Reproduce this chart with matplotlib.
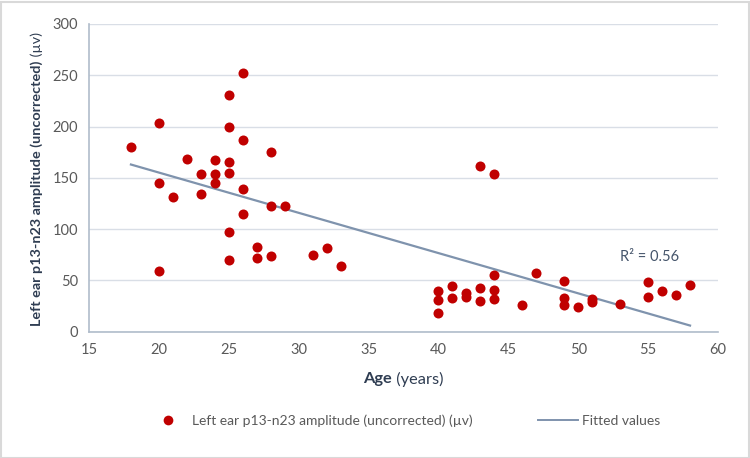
import matplotlib
matplotlib.use("Agg")
import matplotlib.pyplot as plt
from matplotlib.lines import Line2D
from matplotlib.patches import Rectangle

ages = [18, 20, 20, 20, 21, 22, 23, 23, 24, 24, 24, 25, 25, 25, 25, 25, 25,
        26, 26, 26, 26, 27, 27, 28, 28, 28, 29, 31, 32, 33,
        40, 40, 40, 41, 41, 42, 42, 43, 43, 43, 44, 44, 44, 44,
        46, 47, 49, 49, 49, 50, 51, 51, 53, 55, 55, 56, 57, 58]
amplitude = [180, 203, 145, 59, 131, 168, 154, 134, 167, 154, 145, 231, 200, 165, 155, 97, 70,
             252, 187, 139, 115, 83, 72, 175, 123, 74, 123, 75, 82, 64,
             40, 31, 18, 45, 33, 38, 34, 162, 43, 30, 154, 55, 41, 32,
             26, 57, 49, 33, 26, 24, 32, 29, 27, 48, 34, 40, 36, 46]
fit_x = [18, 58]
fit_y = [163, 6]
r2_text = "R² = 0.56"
x_ticks = [15, 20, 25, 30, 35, 40, 45, 50, 55, 60]
y_ticks = [0, 50, 100, 150, 200, 250, 300]

plt.rcParams['font.family'] = ['Lato', 'DejaVu Sans']

W, H = 750, 458
fig = plt.figure(figsize=(W / 100, H / 100), dpi=100)
ax = fig.add_axes([89 / W, 1 - 331.7 / H, (718 - 89) / W, (331.7 - 24) / H])

red = '#c00000'
line_c = '#7f93ad'
tick_c = '#595959'
label_c = '#2f3d52'
grid_c = '#d9dee6'
spine_c = '#b0bccb'

ax.plot(fit_x, fit_y, color=line_c, lw=1.6, zorder=2)
ax.scatter(ages, amplitude, s=52, color=red, zorder=3, linewidths=0)

ax.set_xlim(15, 60)
ax.set_ylim(0, 300)
ax.set_xticks(x_ticks)
ax.set_yticks(y_ticks)
ax.tick_params(length=0, labelsize=10.5, colors=tick_c, pad=8)
ax.grid(axis='y', color=grid_c, lw=1)
ax.set_axisbelow(True)
for s in ['top', 'right']:
    ax.spines[s].set_visible(False)
ax.spines['left'].set_color(spine_c)
ax.spines['bottom'].set_color(spine_c)
ax.spines['left'].set_linewidth(1.2)
ax.spines['bottom'].set_linewidth(1.2)

ax.text(55.1, 73, r2_text, color='#44546a', fontsize=10.5, ha='center', va='center')

fig.canvas.draw()
r = fig.canvas.get_renderer()


def fit_pair(bold_txt, norm_txt, target, rot):
    size = 11.0
    a = fig.text(0, 0, bold_txt, fontweight='bold', fontsize=size, color=label_c, rotation=rot,
                 ha='left' if rot == 0 else 'center', va='center' if rot == 0 else 'bottom')
    b = fig.text(0, 0, norm_txt, fontsize=size, color=label_c, rotation=rot,
                 ha='left' if rot == 0 else 'center', va='center' if rot == 0 else 'bottom')
    ext = lambda t: (t.get_window_extent(r).width if rot == 0 else t.get_window_extent(r).height)
    total = ext(a) + ext(b)
    size = size * target / total
    a.set_fontsize(size)
    b.set_fontsize(size)
    return a, b, ext(a), ext(b)


# x label: bold "Age" + normal "(years)", spanning ~80 px centred at 403.5, y=379 from top
t1, t2, w1, w2 = fit_pair("Age", " (years)", 80, 0)
x0 = 403.5 - (w1 + w2) / 2
t1.set_position((x0 / W, 1 - 379 / H))
t2.set_position(((x0 + w1) / W, 1 - 379 / H))

# y label: bold part + normal "(µv)", spanning ~292 px, centred at y=179 from top
y1, y2, h1, h2 = fit_pair("Left ear p13-n23 amplitude (uncorrected)", " (µv)", 292, 90)
yb = (H - 179) - (h1 + h2) / 2
y1.set_position((37 / W, yb / H))
y2.set_position((37 / W, (yb + h1) / H))

handles = [Line2D([], [], marker='o', color=red, ls='none', markersize=7, markeredgewidth=0),
           Line2D([], [], color=line_c, lw=1.4)]
fig.legend(handles, ["Left ear p13-n23 amplitude (uncorrected) (µv)", "Fitted values"],
           loc='center', bbox_to_anchor=(404 / W, 1 - 421 / H), ncol=2, frameon=False,
           fontsize=10, labelcolor=tick_c, columnspacing=4.7, handlelength=2.9, handletextpad=0.25)

fig.patches.append(Rectangle((0.5 / W, 0.5 / H), (W - 2) / W, (H - 2) / H, transform=fig.transFigure,
                             fill=False, edgecolor='#d9d9d9', lw=1.5))

fig.savefig('out.png', dpi=100)
